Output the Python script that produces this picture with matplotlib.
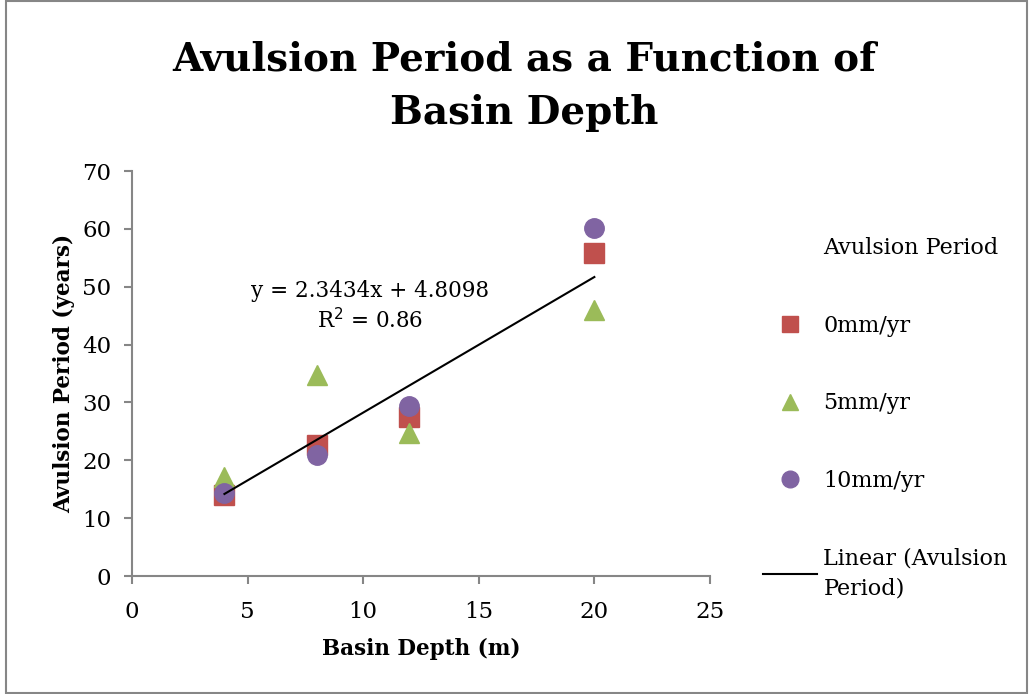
import matplotlib
matplotlib.use('Agg')

import numpy as np
import matplotlib.pyplot as plt
from matplotlib.lines import Line2D
from matplotlib.patches import Rectangle

# basin depth (m)
depth = [4, 8, 12, 20]

# avulsion period (years) for each subsidence rate
period_0mm = [14.0, 22.6, 27.5, 55.9]
period_5mm = [17.2, 34.7, 24.7, 46.0]
period_10mm = [14.3, 20.9, 29.4, 60.1]

series_labels = ["0mm/yr", "5mm/yr", "10mm/yr"]

# trend line as reported on the chart
slope = 2.3434
intercept = 4.8098
r_squared = 0.86

plt.rcParams['font.family'] = 'DejaVu Serif'

fig = plt.figure(figsize=(10.31, 6.94), dpi=100)
ax = fig.add_axes([0.128, 0.170, 0.5606, 0.5836])

# ---------- SCATTER ----------
ax.plot(depth, period_0mm, 's', color='#C0504D', markersize=14, linestyle='none')
ax.plot(depth, period_5mm, '^', color='#9BBB59', markersize=15, linestyle='none')
ax.plot(depth, period_10mm, 'o', color='#8064A2', markersize=14, linestyle='none')

# ---------- TREND LINE ----------
xs = np.array([min(depth), max(depth)])
ax.plot(xs, slope * xs + intercept, color='black', linewidth=1.5)

ax.text(10.3, 46.6, f"y = {slope}x + {intercept}\nR$^2$ = {r_squared}",
        ha='center', va='center', fontsize=15.5, linespacing=1.3)

# ---------- AXES ----------
ax.set_xlim(0, 25)
ax.set_ylim(0, 70)
ax.set_xticks(range(0, 26, 5))
ax.set_yticks(range(0, 71, 10))
for side in ['top', 'right']:
    ax.spines[side].set_visible(False)
for side in ['left', 'bottom']:
    ax.spines[side].set_color('#868686')
    ax.spines[side].set_linewidth(1.5)
ax.tick_params(direction='out', length=6, width=1.5, color='#868686',
               labelsize=16.5)
ax.tick_params(axis='x', pad=12)
ax.tick_params(axis='y', pad=9)

ax.set_xlabel("Basin Depth (m)", fontsize=15.5, fontweight='bold', labelpad=11)
ax.set_ylabel("Avulsion Period (years)", fontsize=15.5, fontweight='bold', labelpad=5)

fig.text(0.508, 0.876, "Avulsion Period as a Function of\nBasin Depth",
         ha='center', va='center', fontsize=28, fontweight='bold', linespacing=1.5)

# ---------- LEGEND ----------
handles = [
    Line2D([], [], linestyle='none', marker=None),
    Line2D([], [], linestyle='none', marker='s', color='#C0504D', markersize=12),
    Line2D([], [], linestyle='none', marker='^', color='#9BBB59', markersize=12),
    Line2D([], [], linestyle='none', marker='o', color='#8064A2', markersize=12),
    Line2D([], [], color='black', linewidth=1.5),
]
labels = ["Avulsion Period"] + series_labels + ["Linear (Avulsion\nPeriod)"]
leg = fig.legend(handles, labels, loc='upper left', bbox_to_anchor=(0.721, 0.687),
                 frameon=False, fontsize=16, labelspacing=2.5, handlelength=2.4,
                 handletextpad=0.3)
for t in leg.get_texts():
    t.set_linespacing(1.5)

# chart border
fig.patches.append(Rectangle((0.006, 0.002), 0.99, 0.996, transform=fig.transFigure,
                             fill=False, edgecolor='#868686', linewidth=1.5))

fig.savefig("out.png", dpi=100)
